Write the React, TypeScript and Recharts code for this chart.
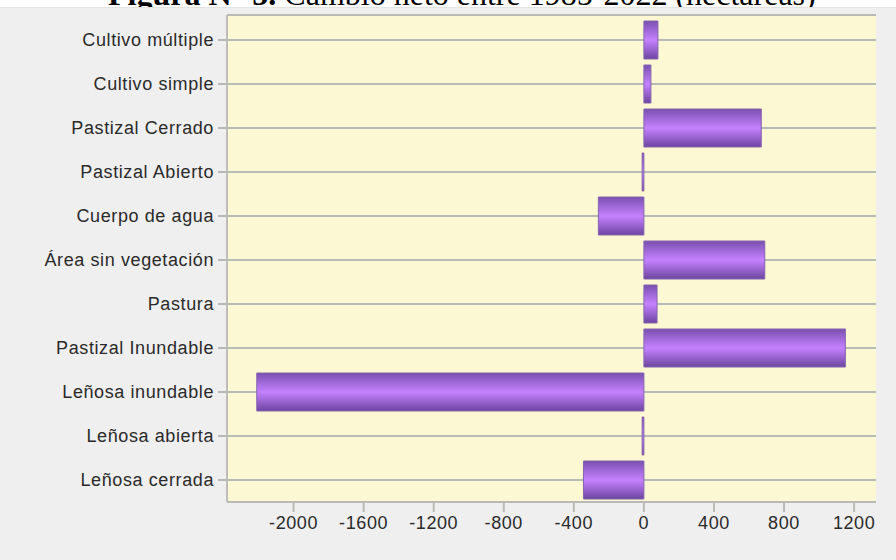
import { Bar, BarChart, CartesianGrid, XAxis, YAxis } from "recharts";

const categories = [
  "Cultivo múltiple",
  "Cultivo simple",
  "Pastizal Cerrado",
  "Pastizal Abierto",
  "Cuerpo de agua",
  "Área sin vegetación",
  "Pastura",
  "Pastizal Inundable",
  "Leñosa inundable",
  "Leñosa abierta",
  "Leñosa cerrada",
];

const netChange = [80, 40, 670, -10, -260, 690, 75, 1150, -2210, -10, -345];

const xTicks = [-2000, -1600, -1200, -800, -400, 0, 400, 800, 1200];

const data = categories.map((name, i) => ({ name, value: netChange[i] }));

const gridGray = "#b9b9b5";
const labelFont = { fontFamily: "Liberation Sans, Arial, sans-serif", fontSize: 18, letterSpacing: 0.6 };

export default function App() {
  return (
    <div
      style={{
        position: "absolute",
        left: 0,
        top: 0,
        width: 896,
        height: 560,
        background: "#efefef",
        overflow: "hidden",
      }}
    >
      {/* title strip, cut off at the top like the source */}
      <div
        style={{
          position: "absolute",
          left: 0,
          top: 0,
          width: 896,
          height: 7,
          background: "#ffffff",
          borderBottom: "1px solid #e3e3e3",
          overflow: "hidden",
        }}
      >
        <div
          style={{
            position: "absolute",
            left: 108,
            top: -22,
            whiteSpace: "nowrap",
            fontFamily: "Liberation Serif, 'Times New Roman', serif",
            fontSize: 32,
            lineHeight: "32px",
            color: "#000",
          }}
        >
          <b>Figura N° 5.</b> Cambio neto entre 1985-2022 (hectáreas)
        </div>
      </div>

      <div style={{ position: "absolute", left: 0, top: 0 }}>
        <BarChart
          width={896}
          height={560}
          data={data}
          layout="vertical"
          margin={{ top: 15, right: 20, bottom: 18, left: 0 }}
        >
          <defs>
            <linearGradient id="barFill" x1="0" y1="0" x2="0" y2="1">
              <stop offset="0%" stopColor="#7a50b0" />
              <stop offset="50%" stopColor="#c482ff" />
              <stop offset="100%" stopColor="#6d45a0" />
            </linearGradient>
          </defs>
          <CartesianGrid
            fill="#fdf8d4"
            vertical={false}
            stroke={gridGray}
            strokeWidth={2}
          />
          <XAxis
            type="number"
            domain={[-2380, 1325]}
            ticks={xTicks}
            allowDataOverflow
            axisLine={false}
            tickSize={10}
            tickMargin={4}
            height={40}
            tickLine={{ stroke: gridGray, strokeWidth: 2 }}
            tick={{ ...labelFont, fill: "#2a2a2a" }}
          />
          <XAxis
            xAxisId="top"
            orientation="top"
            type="number"
            domain={[-2380, 1325]}
            height={0}
            tick={false}
            tickLine={false}
            axisLine={{ stroke: "#c4c4c0", strokeWidth: 2 }}
          />
          <YAxis
            type="category"
            dataKey="name"
            width={227}
            padding={{ top: 3, bottom: 0 }}
            tickSize={9}
            tickMargin={4}
            axisLine={{ stroke: "#bdbdba", strokeWidth: 2 }}
            tickLine={{ stroke: gridGray, strokeWidth: 2 }}
            tick={{ ...labelFont, fill: "#2a2a2a" }}
            interval={0}
          />
          <Bar
            dataKey="value"
            barSize={38}
            fill="url(#barFill)"
            stroke="#8463b0"
            strokeWidth={1}
            isAnimationActive={false}
          />
        </BarChart>
      </div>
    </div>
  );
}
